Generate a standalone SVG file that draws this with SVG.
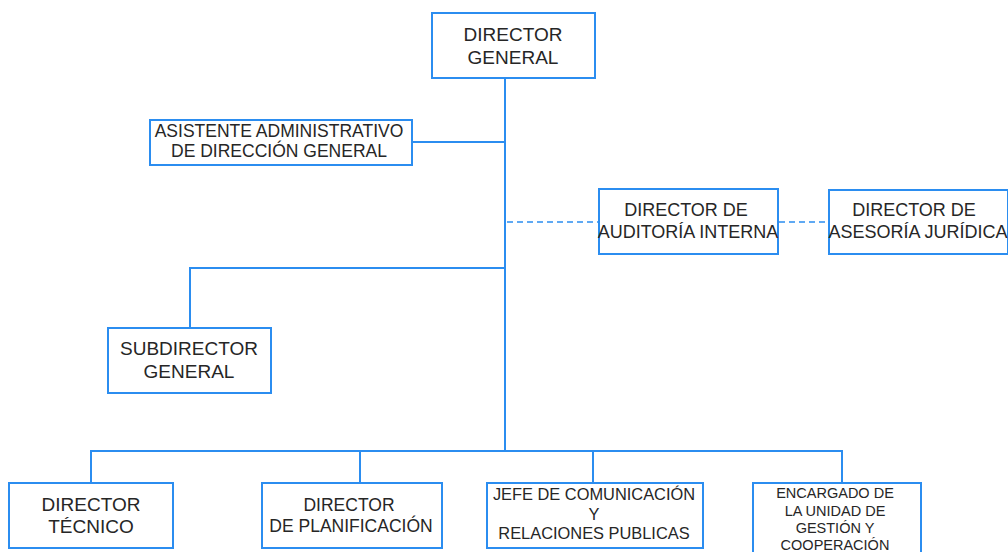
<svg xmlns="http://www.w3.org/2000/svg" width="1008" height="552" viewBox="0 0 1008 552">
<style>
.box{fill:#fff;stroke:#2b8df0;stroke-width:2}
.ln{fill:none;stroke:#2b8df0;stroke-width:2}
.dash{fill:none;stroke:#2b8df0;stroke-width:1.5;stroke-dasharray:6 4}
text{font-family:"Liberation Sans",Arial,sans-serif;fill:#262626;text-anchor:middle}
.t19{font-size:19px}
.t18{font-size:18px}
.t17{font-size:17.5px}
.t16{font-size:16.4px}
.t14{font-size:14.5px}
</style>
<rect width="1008" height="552" fill="#fff"/>
<g id="connectors">
<path class="ln" d="M505,78 V451"/>
<path class="ln" d="M412,142 H505"/>
<path class="ln" d="M190,328 V268 H505"/>
<path class="ln" d="M91,483 V451 H842 V483"/>
<path class="ln" d="M360,451 V483"/>
<path class="ln" d="M593,451 V483"/>
<path class="dash" d="M507,222 H599"/>
<path class="dash" d="M779,222 H829"/>
</g>
<g id="director-general">
<rect class="box" x="432" y="13" width="163" height="65"/>
<text class="t19" x="513" y="41">DIRECTOR</text>
<text class="t19" x="513" y="64">GENERAL</text>
</g>
<g id="asistente">
<rect class="box" x="150" y="120" width="262" height="45"/>
<text class="t17" x="279" y="137">ASISTENTE ADMINISTRATIVO</text>
<text class="t17" x="279" y="157">DE DIRECCIÓN GENERAL</text>
</g>
<g id="auditoria">
<rect class="box" x="599" y="189" width="179" height="65"/>
<text class="t18" x="686" y="216">DIRECTOR DE</text>
<text class="t18" x="688" y="238">AUDITORÍA INTERNA</text>
</g>
<g id="asesoria">
<rect class="box" x="829" y="190" width="179" height="64"/>
<text class="t18" x="914" y="216">DIRECTOR DE</text>
<text class="t18" x="918" y="238">ASESORÍA JURÍDICA</text>
</g>
<g id="subdirector">
<rect class="box" x="108" y="328" width="163" height="65"/>
<text class="t19" x="189" y="355">SUBDIRECTOR</text>
<text class="t19" x="189" y="378">GENERAL</text>
</g>
<g id="director-tecnico">
<rect class="box" x="9" y="483" width="164" height="65"/>
<text class="t19" x="91" y="511">DIRECTOR</text>
<text class="t19" x="91" y="533">TÉCNICO</text>
</g>
<g id="director-planificacion">
<rect class="box" x="262" y="483" width="180" height="65"/>
<text class="t17" x="349" y="511">DIRECTOR</text>
<text class="t17" x="351" y="532">DE PLANIFICACIÓN</text>
</g>
<g id="jefe-comunicacion">
<rect class="box" x="487" y="483" width="216" height="65"/>
<text class="t16" x="594" y="500">JEFE DE COMUNICACIÓN</text>
<text class="t16" x="594" y="520">Y</text>
<text class="t16" x="594" y="539">RELACIONES PUBLICAS</text>
</g>
<g id="encargado">
<rect class="box" x="753" y="483" width="168" height="80"/>
<text class="t14" x="835" y="498">ENCARGADO DE</text>
<text class="t14" x="835" y="516">LA UNIDAD DE</text>
<text class="t14" x="835" y="533">GESTIÓN Y</text>
<text class="t14" x="835" y="550">COOPERACIÓN</text>
</g>
</svg>
